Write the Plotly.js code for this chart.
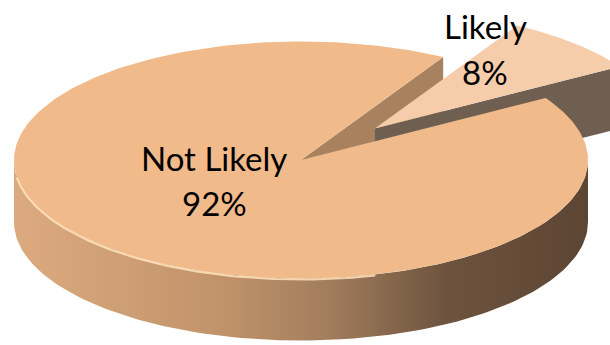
<!DOCTYPE html>
<html>
<head>
<meta charset="utf-8">
<script src="https://cdn.plot.ly/plotly-3.0.1.min.js"></script>
<style>
  html, body { margin: 0; padding: 0; background: #ffffff; }
  #chart { width: 610px; height: 345px; }
</style>
</head>
<body>
<div id="chart"></div>
<script>
// ---- data ----
const categories = ['Not Likely', 'Likely'];
const values = [92, 8];
const faceColors = ['#F1BA8A', '#F5CDAA'];
const pulls = [0, 0.37];

// ---- 3D pie geometry (style) ----
const cx = 301, cy = 160, rx = 287, ry = 118.5, depth = 62;
const startDeg = 60.3;   // first slice starts here, going counter-clockwise
const rad = d => d * Math.PI / 180;

const total = values.reduce((a, b) => a + b, 0);
const slices = [];
let a = startDeg;
values.forEach((v, i) => {
  const span = 360 * v / total;
  const mid = a + span / 2;
  slices.push({
    a0: a, a1: a + span, mid: mid,
    ox: pulls[i] * rx * Math.cos(rad(mid)),
    oy: -pulls[i] * ry * Math.sin(rad(mid))
  });
  a += span;
});

function pt(s, t, z) {
  return [cx + s.ox + rx * Math.cos(rad(t)), cy + s.oy - ry * Math.sin(rad(t)) + z];
}
function arc(s, t0, t1, z, n) {
  const out = [];
  for (let k = 0; k <= n; k++) out.push(pt(s, t0 + (t1 - t0) * k / n, z));
  return out;
}
function poly(points, color, extra) {
  const tr = {
    type: 'scatter', mode: 'lines',
    x: points.map(p => p[0]).concat([points[0][0]]),
    y: points.map(p => p[1]).concat([points[0][1]]),
    fill: 'toself', fillcolor: color,
    line: { width: 0, color: color },
    hoverinfo: 'skip', showlegend: false
  };
  return Object.assign(tr, extra || {});
}
function apex(s, z) { return [cx + s.ox, cy + s.oy + z]; }

const nl = slices[0], lk = slices[1];
const traces = [];

// Not Likely: radial wall on its starting edge
traces.push(poly([apex(nl, 0), pt(nl, nl.a0, 0), pt(nl, nl.a0, depth), apex(nl, depth)], '#A8825F'));
// Likely: radial wall on its starting edge (front-facing)
traces.push(poly([apex(lk, 0), pt(lk, lk.a0, 0), pt(lk, lk.a0, depth), apex(lk, depth)], '#6F5F50'));
// Not Likely: outer cylinder wall (front half)
const wallTop = arc(nl, 180, 360, 0, 120);
const wallBot = arc(nl, 360, 180, depth, 120);
traces.push(poly(wallTop.concat(wallBot), '#A8825F', {
  fillgradient: {
    type: 'horizontal', start: cx - rx, stop: cx + rx,
    colorscale: [[0, '#DCAA7E'], [0.35, '#C2946B'], [0.55, '#A27D5C'], [0.75, '#6E543F'], [1, '#5C4533']]
  }
}));
// Likely top face
traces.push(poly([apex(lk, 0)].concat(arc(lk, lk.a0, lk.a1, 0, 40)), faceColors[1]));
// Not Likely top face
traces.push(poly([apex(nl, 0)].concat(arc(nl, nl.a0, nl.a1, 0, 300)), faceColors[0]));
// light bevel rim on the front-left edge
const rim = arc(nl, 188, 285, 1, 100);
traces.push({
  type: 'scatter', mode: 'lines',
  x: rim.map(p => p[0]), y: rim.map(p => p[1]),
  line: { color: 'rgba(255,228,190,0.85)', width: 2 },
  hoverinfo: 'skip', showlegend: false
});

const pct = values.map(v => Math.round(v / total * 100) + '%');
const labelPos = [[214, 158, 203], [485, 26, 72]];
const font = { family: 'Lato, "Noto Sans", sans-serif', size: 33, color: '#000000' };
const annotations = [];
categories.forEach((c, i) => {
  [c, pct[i]].forEach((txt, j) => {
    annotations.push({
      x: labelPos[i][0], y: labelPos[i][1 + j], xref: 'x', yref: 'y',
      text: txt, showarrow: false, font: font,
      xanchor: 'center', yanchor: 'middle', align: 'center'
    });
  });
});

const layout = {
  width: 610, height: 345,
  margin: { l: 0, r: 0, t: 0, b: 0 },
  paper_bgcolor: '#ffffff', plot_bgcolor: '#ffffff',
  xaxis: { range: [0, 610], visible: false, fixedrange: true },
  yaxis: { range: [345, 0], visible: false, fixedrange: true },
  showlegend: false, hovermode: false,
  annotations: annotations
};

Plotly.newPlot('chart', traces, layout, { displayModeBar: false, staticPlot: true });
</script>
</body>
</html>
